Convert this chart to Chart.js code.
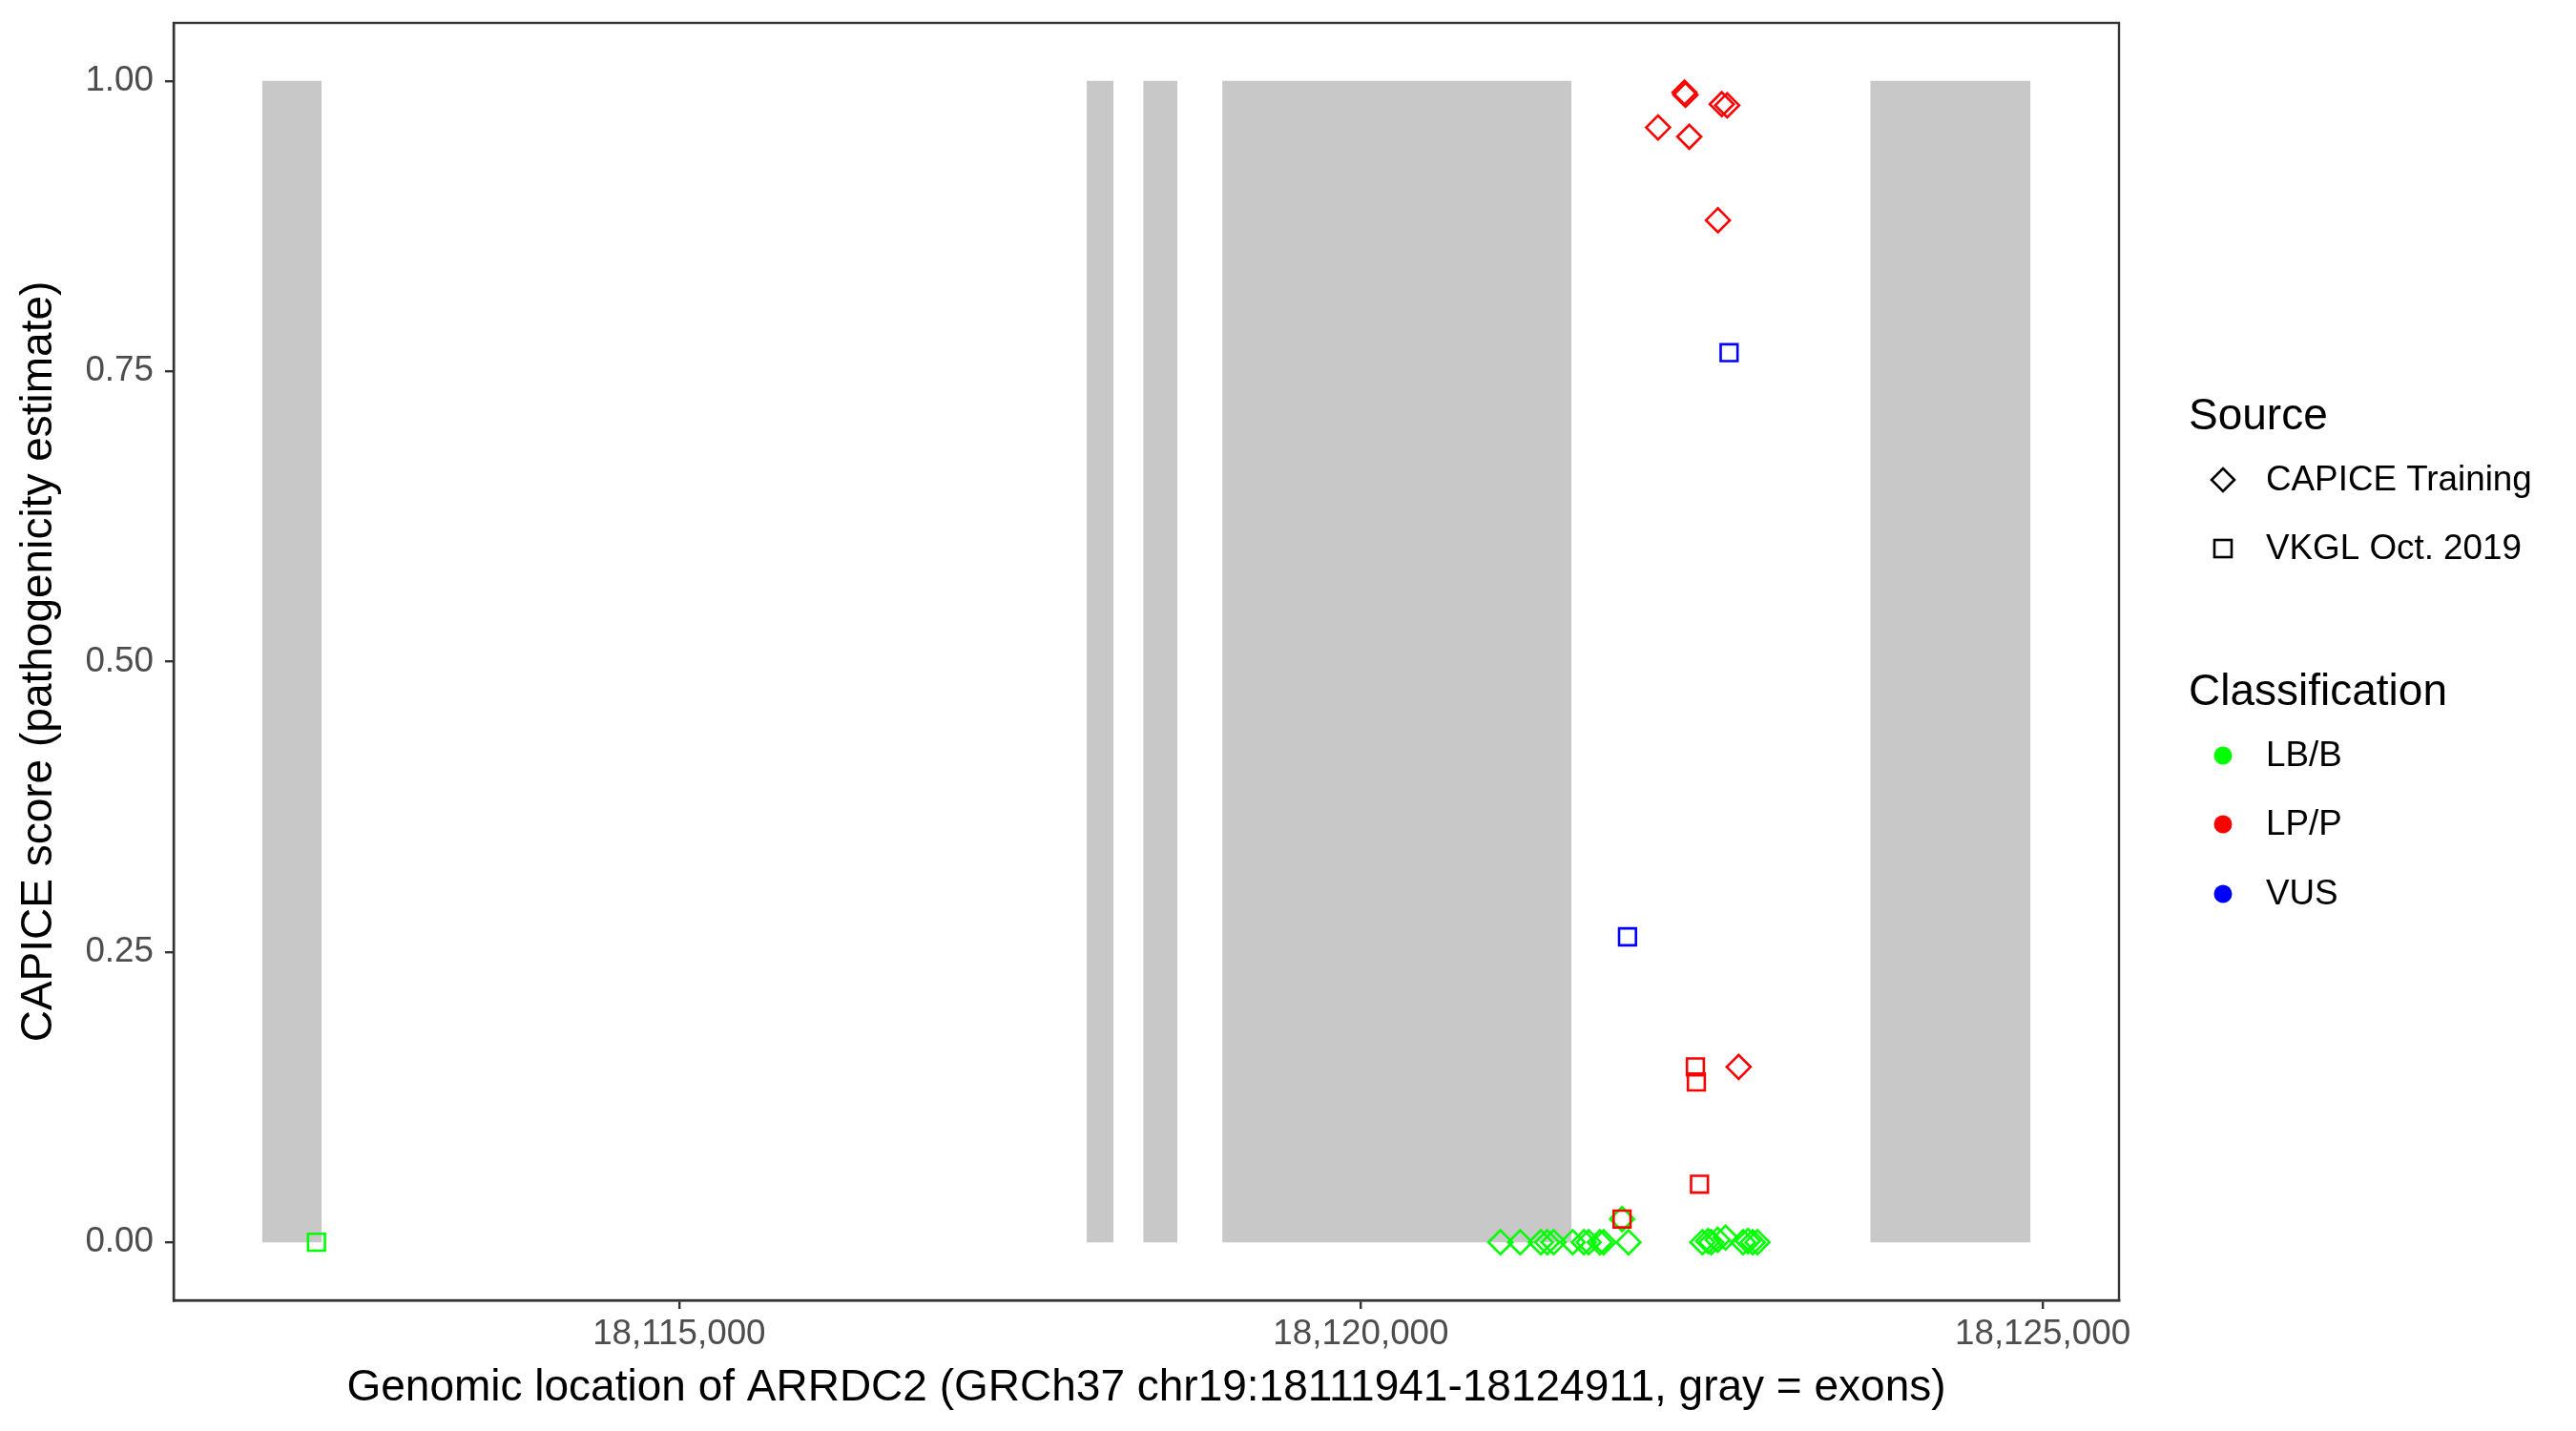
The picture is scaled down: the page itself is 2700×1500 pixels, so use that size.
<!DOCTYPE html>
<html>
<head>
<meta charset="utf-8">
<script src="https://cdn.jsdelivr.net/npm/chart.js@4.4.1/dist/chart.umd.min.js"></script>
<style>
  html, body { margin: 0; padding: 0; background: #fff; }
  #wrap { width: 2700px; height: 1500px; position: relative; }
</style>
</head>
<body>
<div id="wrap"><canvas id="plot"></canvas></div>
<script>
// exons of ARRDC2 (start / end)
const exonStarts = [18111941, 18117989, 18118403, 18118983, 18123735];
const exonEnds = [18112377, 18118185, 18118654, 18121545, 18124911];

// CAPICE Training, LB/B
const capiceBenignPos = [18121023, 18121168, 18121319, 18121366, 18121413, 18121553, 18121635, 18121670,
  18121752, 18121780, 18121962, 18121915, 18122504, 18122546, 18122569, 18122616, 18122674, 18122803,
  18122838, 18122873, 18122908];
const capiceBenignScore = [0, 0, 0, 0, 0, 0, 0, 0, 0, 0, 0, 0.02, 0, 0.001, 0, 0.002, 0.004, 0, 0.001, 0, 0];

// CAPICE Training, LP/P
const capicePathoPos = [18122373, 18122380, 18122646, 18122686, 18122179, 18122408, 18122618, 18122770];
const capicePathoScore = [0.99, 0.988, 0.98, 0.979, 0.96, 0.952, 0.88, 0.151];

// VKGL Oct. 2019
const vkglBenignPos = [18112340];
const vkglBenignScore = [0];
const vkglPathoPos = [18122453, 18122460, 18122483, 18121915];
const vkglPathoScore = [0.151, 0.138, 0.05, 0.02];
const vkglVusPos = [18122700, 18121955];
const vkglVusScore = [0.766, 0.263];

const xTicks = [18115000, 18120000, 18125000];
const yTicks = [0, 0.25, 0.5, 0.75, 1];

const sourceNames = ['CAPICE Training', 'VKGL Oct. 2019'];
const classNames = ['LB/B', 'LP/P', 'VUS'];
const classColors = ['#00FF00', '#FF0000', '#0000FF'];

const FONT = '"Liberation Sans", Arial, Helvetica, sans-serif';

function pts(xs, ys) {
  return xs.map((x, i) => ({ x: x, y: ys[i] }));
}

function markers(xs, ys, color, style) {
  return {
    data: pts(xs, ys),
    pointStyle: style,
    pointRadius: 12.5,
    pointBorderWidth: 2.6,
    borderColor: color,
    pointBorderColor: color,
    backgroundColor: 'rgba(0,0,0,0)',
    pointBackgroundColor: 'rgba(0,0,0,0)',
    order: 0,
  };
}

const datasets = [
  markers(vkglVusPos, vkglVusScore, classColors[2], 'rect'),
  markers(vkglPathoPos, vkglPathoScore, classColors[1], 'rect'),
  markers(vkglBenignPos, vkglBenignScore, classColors[0], 'rect'),
  markers(capicePathoPos, capicePathoScore, classColors[1], 'rectRot'),
  markers(capiceBenignPos, capiceBenignScore, classColors[0], 'rectRot'),
];

// gray exon blocks from 0 to 1
exonStarts.forEach((s, i) => {
  datasets.push({
    type: 'line',
    data: [{ x: s, y: 1 }, { x: exonEnds[i], y: 1 }],
    showLine: true,
    fill: 'origin',
    backgroundColor: '#C8C8C8',
    borderWidth: 0,
    pointRadius: 0,
    order: 10,
  });
});

// panel border on top of everything
const panelBorder = {
  id: 'panelBorder',
  afterDatasetsDraw(chart) {
    const a = chart.chartArea;
    const c = chart.ctx;
    c.save();
    c.strokeStyle = '#333333';
    c.lineWidth = 2.4;
    c.strokeRect(a.left, a.top, a.right - a.left, a.bottom - a.top);
    c.restore();
  },
};

// two-part legend on the right
const sideLegend = {
  id: 'sideLegend',
  afterDraw(chart) {
    const c = chart.ctx;
    c.save();
    c.fillStyle = '#000';
    c.textBaseline = 'alphabetic';
    c.font = '46px ' + FONT;
    c.fillText('Source', 2294, 450);
    c.fillText('Classification', 2294, 739);

    c.font = '36.8px ' + FONT;
    c.textBaseline = 'middle';
    // source shapes
    const sy = [503, 575];
    c.strokeStyle = '#000';
    c.lineWidth = 2.6;
    c.beginPath();
    c.moveTo(2330, sy[0] - 12); c.lineTo(2342, sy[0]); c.lineTo(2330, sy[0] + 12); c.lineTo(2318, sy[0]); c.closePath();
    c.stroke();
    c.strokeRect(2321, sy[1] - 9, 18, 18);
    c.fillText(sourceNames[0], 2375, sy[0] + 1);
    c.fillText(sourceNames[1], 2375, sy[1] + 1);

    // classification dots
    const ys = [792, 864, 937];
    classNames.forEach((n, i) => {
      c.fillStyle = classColors[i];
      c.beginPath();
      c.arc(2330, ys[i], 9.5, 0, Math.PI * 2);
      c.fill();
      c.fillStyle = '#000';
      c.fillText(n, 2375, ys[i] + 1);
    });
    c.restore();
  },
};

new Chart(document.getElementById('plot'), {
  type: 'scatter',
  data: { datasets: datasets },
  plugins: [panelBorder, sideLegend],
  options: {
    responsive: true,
    maintainAspectRatio: false,
    animation: false,
    layout: { padding: { top: 24, right: 479, left: 0, bottom: 0 } },
    plugins: {
      legend: { display: false },
      tooltip: { enabled: false },
    },
    scales: {
      x: {
        type: 'linear',
        min: 18111292.5,
        max: 18125559.5,
        afterBuildTicks: (s) => { s.ticks = xTicks.map((v) => ({ value: v })); },
        afterFit: (s) => { s.height = 137; s.paddingLeft = 0; s.paddingRight = 0; },
        ticks: {
          callback: (v) => v.toLocaleString('en-US'),
          font: { family: FONT, size: 36.8 },
          color: '#4D4D4D',
          maxRotation: 0,
          autoSkip: false,
          padding: 5,
        },
        grid: { drawOnChartArea: false, tickLength: 9, color: '#333333', lineWidth: 2.4 },
        border: { display: true, color: '#333333', width: 2.4 },
        title: {
          display: true,
          text: 'Genomic location of ARRDC2 (GRCh37 chr19:18111941-18124911, gray = exons)',
          font: { family: FONT, size: 46 },
          color: '#000',
          padding: { top: 0, bottom: 17 },
        },
      },
      y: {
        min: -0.05,
        max: 1.05,
        afterBuildTicks: (s) => { s.ticks = yTicks.map((v) => ({ value: v })); },
        afterFit: (s) => { s.width = 182; s.paddingTop = 0; s.paddingBottom = 0; },
        ticks: {
          callback: (v) => v.toFixed(2),
          font: { family: FONT, size: 36.8 },
          color: '#4D4D4D',
          padding: 12,
        },
        grid: { drawOnChartArea: false, tickLength: 9, color: '#333333', lineWidth: 2.4 },
        border: { display: true, color: '#333333', width: 2.4 },
        title: {
          display: true,
          text: 'CAPICE score (pathogenicity estimate)',
          font: { family: FONT, size: 46 },
          color: '#000',
          padding: { top: 14, bottom: 0 },
        },
      },
    },
  },
});
</script>
</body>
</html>
